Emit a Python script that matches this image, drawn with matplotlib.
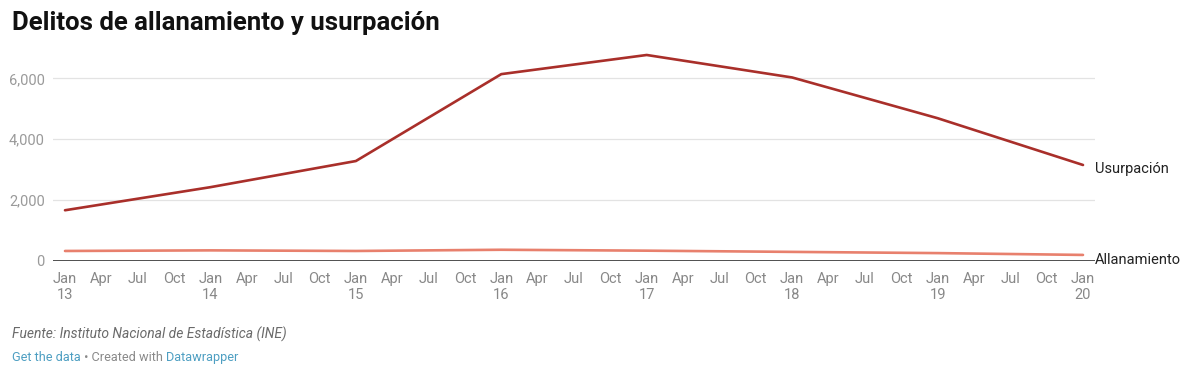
import matplotlib.pyplot as plt
import numpy as np

plt.rcParams['font.family'] = ['Roboto', 'DejaVu Sans']

# datos anuales (enero de cada año)
years = [2013, 2014, 2015, 2016, 2017, 2018, 2019, 2020]
usurpacion = [1660, 2420, 3280, 6140, 6770, 6030, 4690, 3150]
allanamiento = [320, 340, 320, 360, 330, 290, 250, 190]

month_labels = ["Jan", "Apr", "Jul", "Oct"]
y_ticks = [0, 2000, 4000, 6000]

c_usu = "#a92f2a"
c_all = "#e8806d"

fig = plt.figure(figsize=(12, 3.72), dpi=100)
ax = fig.add_axes([53 / 1200, 1 - 260.7 / 372, (1095 - 53) / 1200, (260.7 - 48) / 372])

ax.plot(years, allanamiento, color=c_all, lw=1.9, solid_capstyle="round", zorder=3)
ax.plot(years, usurpacion, color=c_usu, lw=1.9, solid_capstyle="round", zorder=3)

pad = 12 / 145.4
ax.set_xlim(years[0] - pad, years[-1] + pad)
ax.set_ylim(0, 7000)

# ejes estilo Datawrapper
for s in ax.spines.values():
    s.set_visible(False)
ax.axhline(0, color="#222222", lw=1.1, zorder=2)
ax.set_yticks(y_ticks)
ax.set_yticklabels([f"{v:,}" for v in y_ticks])
ax.grid(axis="y", color="#e3e3e3", lw=0.9, zorder=0)
ax.tick_params(axis="y", length=0, pad=6, labelsize=10.5, labelcolor="#9a9a9a")

xt, xl = [], []
for y in years:
    for q, m in enumerate(month_labels):
        if y == years[-1] and q > 0:
            break
        xt.append(y + q * 0.25)
        xl.append(f"{m}\n{str(y)[2:]}" if q == 0 else m)
ax.set_xticks(xt)
ax.set_xticklabels(xl)
ax.tick_params(axis="x", length=0, pad=8, labelsize=10.5, labelcolor="#888888")
for lbl in ax.get_xticklabels():
    lbl.set_verticalalignment("top")
    lbl.set_linespacing(1.2)

# etiquetas de series
ax.annotate("Usurpación", xy=(1, usurpacion[-1]), xycoords=("axes fraction", "data"),
            xytext=(0, -3), textcoords="offset points", va="center", ha="left",
            fontsize=10.5, color="#222222")
ax.annotate("Allanamiento", xy=(1, allanamiento[-1]), xycoords=("axes fraction", "data"),
            xytext=(0, -3.5), textcoords="offset points", va="center", ha="left",
            fontsize=10.5, color="#222222")

fig.text(12 / 1200, 1 - 30 / 372, "Delitos de allanamiento y usurpación",
         fontsize=18.5, fontweight="bold", color="#111111", va="baseline")
fig.text(12 / 1200, 1 - 339 / 372, "Fuente: Instituto Nacional de Estadística (INE)",
         fontsize=10, style="italic", color="#6a6a6a", va="baseline")

t1 = fig.text(12 / 1200, 1 - 361 / 372, "Get the data", fontsize=9.2, color="#4e9fc2", va="baseline")
fig.canvas.draw()
r = fig.canvas.get_renderer()
bb = t1.get_window_extent(r)
t2 = fig.text(bb.x1 / 1200, 1 - 361 / 372, " • Created with ", fontsize=9.2, color="#8a8a8a", va="baseline")
bb2 = t2.get_window_extent(r)
fig.text(bb2.x1 / 1200, 1 - 361 / 372, "Datawrapper", fontsize=9.2, color="#4e9fc2", va="baseline")

fig.savefig("out.png", dpi=100)
